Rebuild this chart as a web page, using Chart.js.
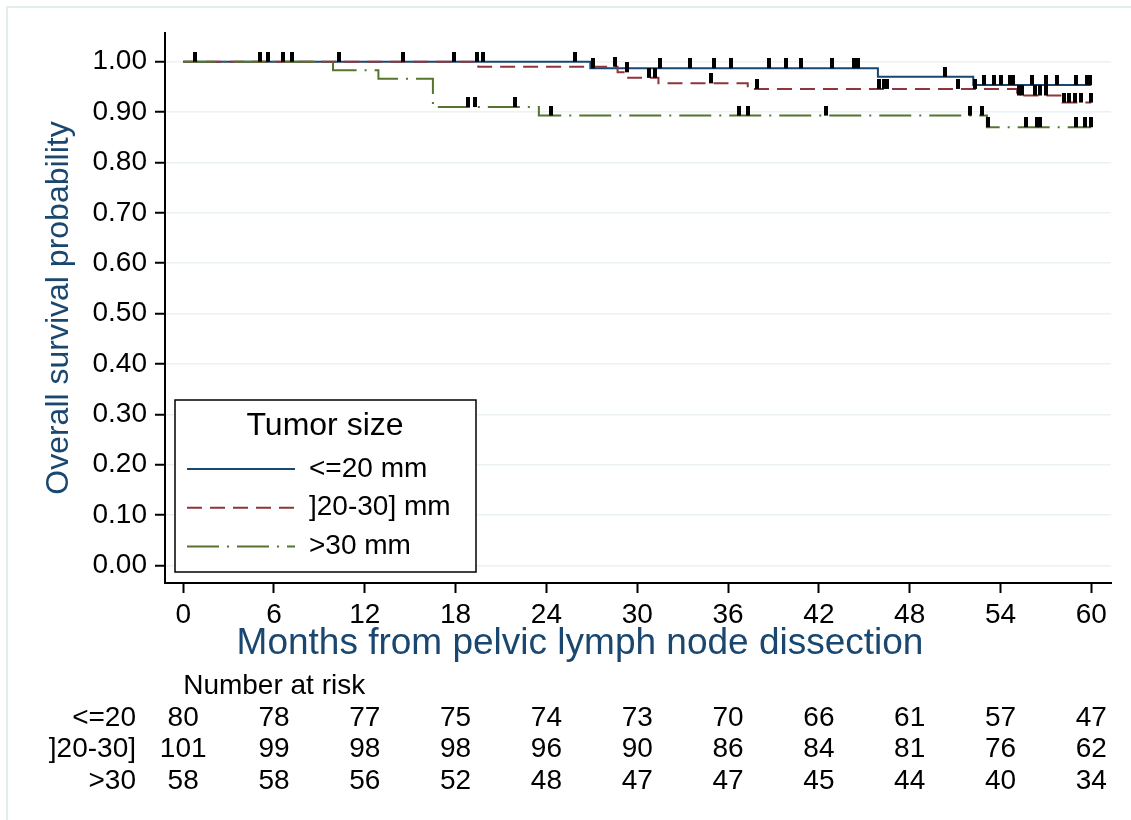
<!DOCTYPE html>
<html>
<head>
<meta charset="utf-8">
<script src="https://cdn.jsdelivr.net/npm/chart.js@4.4.1/dist/chart.umd.min.js"></script>
<style>
  html, body { margin: 0; padding: 0; background: #fff; }
  #wrap { width: 1131px; height: 820px; }
</style>
</head>
<body>
<div id="wrap"><canvas id="kmChart"></canvas></div>
<script>
const monthTicks = [0, 6, 12, 18, 24, 30, 36, 42, 48, 54, 60];
const survTicks = [0, 0.1, 0.2, 0.3, 0.4, 0.5, 0.6, 0.7, 0.8, 0.9, 1];
const groupNames = ['<=20 mm', ']20-30] mm', '>30 mm'];
const riskLabels = ['<=20', ']20-30]', '>30'];
const xTitle = 'Months from pelvic lymph node dissection';

// KM steps: event time (months) and survival right after it
const le20Times = [0, 26.9, 45.9, 52.2, 60];
const le20Surv = [1, 0.987, 0.970, 0.954, 0.954];
const mid20to30Times = [0, 19.5, 28.7, 29.4, 31.4, 37.3, 55.1, 58.1, 60];
const mid20to30Surv = [1, 0.990, 0.979, 0.968, 0.957, 0.946, 0.933, 0.919, 0.919];
const gt30Times = [0, 9.9, 12.9, 16.5, 23.5, 53.1, 60];
const gt30Surv = [1, 0.983, 0.966, 0.910, 0.893, 0.870, 0.870];

// censoring times
const le20Censored = [0.8, 5.1, 5.6, 6.6, 7.2, 10.3, 14.5, 17.9, 19.4, 19.8, 25.9, 27.1, 31.5, 33.5, 35.1, 36.2, 38.7, 39.8, 40.8, 42.9, 44.3, 44.6, 50.3, 52.9, 53.6, 54.0, 54.6, 54.8, 56.1, 57.0, 57.7, 59.0, 59.7, 59.9];
const mid20to30Censored = [28.5, 29.3, 30.8, 31.2, 34.9, 37.9, 46.0, 46.3, 46.5, 51.2, 52.3, 55.2, 55.4, 56.3, 56.6, 57.0, 58.2, 58.5, 58.9, 59.3, 60];
const gt30Censored = [18.8, 19.3, 21.9, 24.3, 36.7, 37.3, 42.5, 52.0, 52.8, 53.2, 55.7, 56.4, 56.6, 59.0, 59.6, 60];

// number at risk at each month tick
const le20AtRisk = [80, 78, 77, 75, 74, 73, 70, 66, 61, 57, 47];
const mid20to30AtRisk = [101, 99, 98, 98, 96, 90, 86, 84, 81, 76, 62];
const gt30AtRisk = [58, 58, 56, 52, 48, 47, 47, 45, 44, 40, 34];

const colors = ['#1a476f', '#90353b', '#55752f'];
const dashes = [[], [15, 8], [32, 8, 2, 8]];
const FONT = "'Liberation Sans', Arial, sans-serif";

function survAt(times, surv, t) {
  let s = surv[0];
  for (let i = 0; i < times.length; i++) if (times[i] <= t) s = surv[i];
  return s;
}

function steps(times, surv) {
  return times.map((t, i) => ({x: t, y: surv[i]}));
}

// black tick sitting on top of the curve
function censorMark() {
  const c = document.createElement('canvas');
  c.width = 4; c.height = 20;
  const g = c.getContext('2d');
  g.fillStyle = '#000';
  g.fillRect(0, 0, 4, 10);
  return c;
}
const mark = censorMark();

const curves = [
  [le20Times, le20Surv, le20Censored],
  [mid20to30Times, mid20to30Surv, mid20to30Censored],
  [gt30Times, gt30Surv, gt30Censored]
];

const datasets = [];
curves.forEach(([times, surv], i) => {
  datasets.push({
    label: groupNames[i],
    data: steps(times, surv),
    showLine: true,
    stepped: true,
    borderColor: colors[i],
    borderWidth: 2,
    borderDash: dashes[i],
    pointRadius: 0,
    fill: false,
    order: 3 - i,
    kmCurve: true
  });
});
curves.forEach(([times, surv, cens], i) => {
  datasets.push({
    label: groupNames[i] + ' censored',
    data: cens.map(t => ({x: t, y: survAt(times, surv, t)})),
    showLine: false,
    pointStyle: mark,
    pointRadius: 3,
    order: 0
  });
});

const framePlugin = {
  id: 'frame',
  beforeDraw(chart) {
    const ctx = chart.ctx;
    ctx.save();
    ctx.fillStyle = '#fff';
    ctx.fillRect(0, 0, chart.width, chart.height);
    ctx.strokeStyle = '#e3ecee';
    ctx.lineWidth = 2;
    ctx.strokeRect(7, 7, chart.width + 20, chart.height + 20);
    ctx.restore();
  }
};

const legendBox = {
  id: 'legendBox',
  afterDraw(chart) {
    const ctx = chart.ctx;
    const area = chart.chartArea;
    const x0 = area.left + 10, y1 = area.bottom - 11;
    const w = 301, h = 172, y0 = y1 - h;
    ctx.save();
    ctx.fillStyle = '#fff';
    ctx.fillRect(x0, y0, w, h);
    ctx.strokeStyle = '#000';
    ctx.lineWidth = 1.5;
    ctx.strokeRect(x0, y0, w, h);
    ctx.fillStyle = '#000';
    ctx.textBaseline = 'middle';
    ctx.textAlign = 'center';
    ctx.font = '32px ' + FONT;
    ctx.fillText('Tumor size', x0 + 150, y0 + 26);
    ctx.textAlign = 'left';
    ctx.font = '28px ' + FONT;
    chart.data.datasets.filter(d => d.kmCurve).forEach((d, i) => {
      const y = y0 + 69 + i * 38.7;
      ctx.strokeStyle = d.borderColor;
      ctx.lineWidth = 2;
      ctx.setLineDash(d.borderDash);
      ctx.beginPath();
      ctx.moveTo(x0 + 12, y);
      ctx.lineTo(x0 + 120, y);
      ctx.stroke();
      ctx.setLineDash([]);
      ctx.fillText(d.label, x0 + 134, y);
    });
    ctx.restore();
  }
};

const riskTable = {
  id: 'riskTable',
  afterDraw(chart) {
    const ctx = chart.ctx;
    const xs = chart.scales.x;
    const rows = [le20AtRisk, mid20to30AtRisk, gt30AtRisk];
    ctx.save();
    // x-axis title, placed like the original (left of plot centre)
    ctx.fillStyle = '#1a476f';
    ctx.font = '37px ' + FONT;
    ctx.textAlign = 'center';
    ctx.textBaseline = 'middle';
    ctx.fillText(xTitle, 580, 644);

    ctx.fillStyle = '#000';
    ctx.font = '28px ' + FONT;
    ctx.textAlign = 'left';
    ctx.fillText('Number at risk', xs.getPixelForValue(0), 686);
    rows.forEach((row, r) => {
      const y = 718 + r * 31.5;
      ctx.textAlign = 'right';
      ctx.fillText(riskLabels[r], 136, y);
      ctx.textAlign = 'center';
      row.forEach((n, i) => ctx.fillText(String(n), xs.getPixelForValue(monthTicks[i]), y));
    });
    ctx.restore();
  }
};

new Chart(document.getElementById('kmChart'), {
  type: 'scatter',
  data: { datasets: datasets },
  options: {
    responsive: true,
    maintainAspectRatio: false,
    animation: false,
    layout: { padding: { top: 33, right: 20, left: 0, bottom: 0 } },
    scales: {
      x: {
        type: 'linear',
        min: -1.2,
        max: 61.3,
        afterBuildTicks: s => { s.ticks = monthTicks.map(v => ({value: v})); },
        afterFit: s => { s.height = 237; },
        ticks: { color: '#000', font: { size: 28, family: FONT }, padding: 5, maxRotation: 0 },
        grid: { drawOnChartArea: false, tickLength: 10, tickColor: '#000', tickWidth: 2 },
        border: { color: '#000', width: 2 },
        title: { display: false }
      },
      y: {
        min: -0.035,
        max: 1.057,
        afterBuildTicks: s => { s.ticks = survTicks.map(v => ({value: v})); },
        afterFit: s => { s.width = 165; },
        ticks: { color: '#000', font: { size: 28, family: FONT }, padding: 8, callback: v => v.toFixed(2) },
        grid: { color: '#eaf2f3', lineWidth: 1.5, tickLength: 10, tickColor: '#000', tickWidth: 2 },
        border: { color: '#000', width: 2 },
        title: {
          display: true,
          text: 'Overall survival probability',
          color: '#1a476f',
          font: { size: 32, family: FONT },
          padding: { top: 40, bottom: 0 }
        }
      }
    },
    plugins: {
      legend: { display: false },
      tooltip: { enabled: false }
    }
  },
  plugins: [framePlugin, legendBox, riskTable]
});
</script>
</body>
</html>
